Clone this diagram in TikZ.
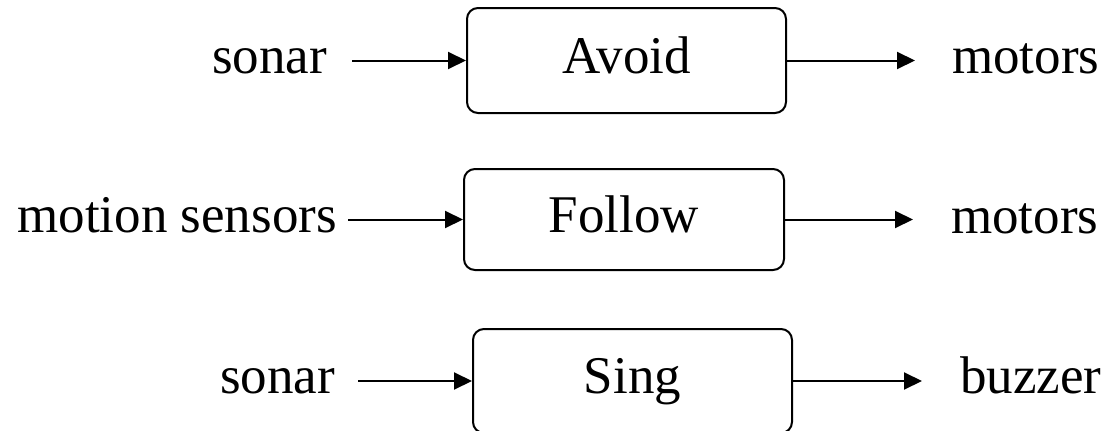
\documentclass[tikz,border=0pt]{standalone}
\usepackage{fontspec}
\setmainfont{Liberation Serif}
\usetikzlibrary{arrows.meta}
\begin{document}
\begin{tikzpicture}[x=1pt,y=-1pt,
  lbl/.style={inner sep=0pt,font=\fontsize{53}{60}\selectfont},
  blk/.style={draw,line width=2pt,rounded corners=11pt,inner sep=0pt,text height=25pt,text depth=0pt,font=\fontsize{53}{60}\selectfont},
  arr/.style={line width=2pt,-{Triangle[length=18pt,width=17pt]}}]
\useasboundingbox (0,0) rectangle (1109,431);
% boxes
\node[blk,minimum width=319pt,minimum height=105pt] (avoid) at (626.5,60.5) {Avoid};
\node[blk,minimum width=320pt,minimum height=101pt] (follow) at (624,219.5) {Follow};
\node[blk,minimum width=319pt,minimum height=104pt] (sing) at (632.5,381) {Sing};
% inputs
\node[lbl,anchor=base east] (in1) at (327,73) {sonar};
\node[lbl,anchor=base east] (in2) at (337,232) {motion sensors};
\node[lbl,anchor=base east] (in3) at (335,393) {sonar};
% outputs
\node[lbl,anchor=base west] (out1) at (952,73) {motors};
\node[lbl,anchor=base west] (out2) at (951,233) {motors};
\node[lbl,anchor=base west] (out3) at (960,393) {buzzer};
% connectors
\draw[arr] ([xshift=25pt]in1.east |- avoid.west) -- (avoid.west);
\draw[arr] ([xshift=11pt]in2.east |- follow.west) -- (follow.west);
\draw[arr] ([xshift=23pt]in3.east |- sing.west) -- (sing.west);
\draw[arr] (avoid.east) -- ([xshift=-37pt]out1.west |- avoid.east);
\draw[arr] (follow.east) -- ([xshift=-38pt]out2.west |- follow.east);
\draw[arr] (sing.east) -- ([xshift=-38pt]out3.west |- sing.east);
\end{tikzpicture}
\end{document}
